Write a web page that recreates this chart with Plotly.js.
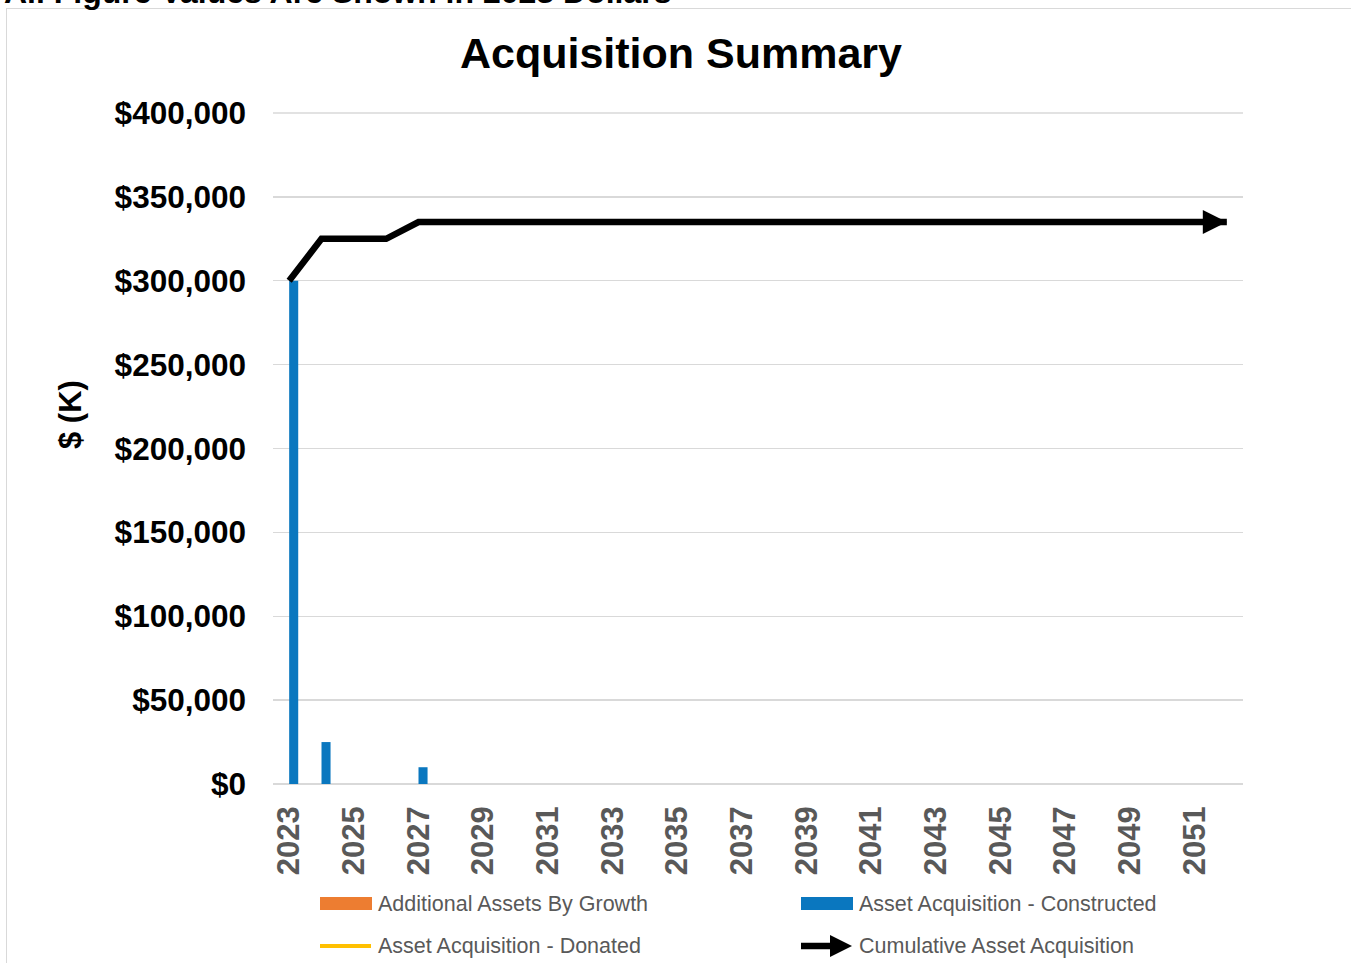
<!DOCTYPE html>
<html>
<head>
<meta charset="utf-8">
<script src="https://cdn.plot.ly/plotly-3.0.1.min.js"></script>
<style>
  html, body { margin: 0; padding: 0; overflow: hidden; background: #fff; }
  #wrap { position: relative; width: 1351px; height: 963px; overflow: hidden; }
  #frame { position: absolute; left: 6px; top: 8px; width: 1400px; height: 1000px;
           border-top: 1px solid #d9d9d9; border-left: 1px solid #d9d9d9; }
  #note { position: absolute; left: 4px; top: -24px; font-family: "Liberation Sans", Arial, sans-serif;
          font-weight: bold; font-size: 32px; line-height: 32px; color: #000; white-space: nowrap; }
  #chart { position: absolute; left: 0; top: 0; width: 1351px; height: 963px; }
</style>
</head>
<body>
<div id="wrap">
  <div id="frame"></div>
  <div id="note">All Figure Values Are Shown in 2023 Dollars</div>
  <div id="chart"></div>
</div>
<script>
// ---- data ----
const years = ['2023','2024','2025','2026','2027','2028','2029','2030','2031','2032',
               '2033','2034','2035','2036','2037','2038','2039','2040','2041','2042',
               '2043','2044','2045','2046','2047','2048','2049','2050','2051','2052'];
const tickYears = ['2023','2025','2027','2029','2031','2033','2035','2037','2039','2041',
                   '2043','2045','2047','2049','2051'];
const additionalByGrowth = [0,0,0,0,0,0,0,0,0,0, 0,0,0,0,0,0,0,0,0,0, 0,0,0,0,0,0,0,0,0,0];
const constructed = [300000,25000,0,0,10000,0,0,0,0,0, 0,0,0,0,0,0,0,0,0,0, 0,0,0,0,0,0,0,0,0,0];
const donated = [null,null,null,null,null,null,null,null,null,null,
                 null,null,null,null,null,null,null,null,null,null,
                 null,null,null,null,null,null,null,null,null,null];
const cumulative = [300000,325000,325000,325000,335000,335000,335000,335000,335000,335000,
                    335000,335000,335000,335000,335000,335000,335000,335000,335000,335000,
                    335000,335000,335000,335000,335000,335000,335000,335000,335000,335000];
const legendNames = ['Additional Assets By Growth','Asset Acquisition - Constructed',
                     'Asset Acquisition - Donated','Cumulative Asset Acquisition'];

// ---- layout helpers (pixel -> paper) ----
const L = 273, R = 1243, T = 113, B = 784;
const px = x => (x - L) / (R - L);
const py = y => (B - y) / (B - T);

const last = years.length - 1;
// back off only the final segment so the thick line ends inside the arrowhead
const lineBackoff = cumulative.map((v, i) => (i === last - 1 || i === last) ? 14 : 0);

const traces = [
  { type: 'bar', name: legendNames[0], x: years, y: additionalByGrowth,
    marker: { color: '#ED7D31' }, showlegend: false },
  { type: 'bar', name: legendNames[1], x: years, y: constructed,
    marker: { color: '#0A77BF' }, showlegend: false },
  { type: 'scatter', mode: 'lines', name: legendNames[2], x: years, y: donated,
    line: { color: '#FFC000', width: 4 }, showlegend: false },
  { type: 'scatter', mode: 'lines', name: legendNames[3], x: years, y: cumulative,
    line: { color: '#000', width: 6.5, backoff: lineBackoff }, showlegend: false },
  { type: 'scatter', mode: 'markers', name: legendNames[3] + ' (end)',
    x: [years[last]], y: [cumulative[last]],
    marker: { symbol: 'arrow-right', size: 24, color: '#000', line: { width: 0 } },
    showlegend: false }
];

const legFont = { family: 'Liberation Sans, Arial, sans-serif', size: 21.5, color: '#595959' };
const shapes = [
  { type: 'line', xref: 'paper', yref: 'paper', x0: 0, x1: 1, y0: 1, y1: 1,
    line: { color: '#D9D9D9', width: 1.3 }, layer: 'below' },
  { type: 'rect', xref: 'paper', yref: 'paper', x0: px(320), x1: px(372), y0: py(897), y1: py(910),
    fillcolor: '#ED7D31', line: { width: 0 } },
  { type: 'rect', xref: 'paper', yref: 'paper', x0: px(801), x1: px(853), y0: py(897), y1: py(910),
    fillcolor: '#0A77BF', line: { width: 0 } },
  { type: 'line', xref: 'paper', yref: 'paper', x0: px(320), x1: px(371), y0: py(946), y1: py(946),
    line: { color: '#FFC000', width: 4 } },
  { type: 'line', xref: 'paper', yref: 'paper', x0: px(801), x1: px(836), y0: py(946), y1: py(946),
    line: { color: '#000', width: 6.5 } },
  { type: 'path', xref: 'paper', yref: 'paper',
    path: `M${px(830)},${py(935)} L${px(852)},${py(946)} L${px(830)},${py(957)} Z`,
    fillcolor: '#000', line: { width: 0 } }
];
const annotations = [
  { xref: 'paper', yref: 'paper', x: px(70), y: py(415), xanchor: 'center', yanchor: 'middle',
    text: '$ (K)', showarrow: false, textangle: -90,
    font: { family: 'Liberation Sans, Arial, sans-serif', size: 31, color: '#000', weight: 'bold' } },
  { xref: 'paper', yref: 'paper', x: px(376), y: py(904), xanchor: 'left', yanchor: 'middle',
    text: legendNames[0], showarrow: false, font: legFont },
  { xref: 'paper', yref: 'paper', x: px(857), y: py(904), xanchor: 'left', yanchor: 'middle',
    text: legendNames[1], showarrow: false, font: legFont },
  { xref: 'paper', yref: 'paper', x: px(376), y: py(946), xanchor: 'left', yanchor: 'middle',
    text: legendNames[2], showarrow: false, font: legFont },
  { xref: 'paper', yref: 'paper', x: px(857), y: py(946), xanchor: 'left', yanchor: 'middle',
    text: legendNames[3], showarrow: false, font: legFont }
];

const layout = {
  width: 1351, height: 963,
  margin: { l: L, r: 1351 - R, t: T, b: 963 - B, pad: 0 },
  paper_bgcolor: 'rgba(0,0,0,0)', plot_bgcolor: 'rgba(0,0,0,0)',
  title: { text: 'Acquisition Summary', x: 681 / 1351, xanchor: 'center', y: 1 - 53 / 963, yanchor: 'middle',
           font: { family: 'Liberation Sans, Arial, sans-serif', size: 43, color: '#000', weight: 'bold' } },
  barmode: 'group', bargap: 0.44, bargroupgap: 0,
  showlegend: false,
  xaxis: { type: 'category', range: [-0.5, years.length - 0.5], autorange: false,
           tickvals: tickYears, ticktext: tickYears, tickangle: -90,
           showgrid: false, showline: false, zeroline: false, ticks: '', ticklabelstandoff: 15,
           tickfont: { family: 'Liberation Sans, Arial, sans-serif', size: 31, color: '#595959', weight: 'bold' } },
  yaxis: { range: [0, 400000], autorange: false, dtick: 50000, tick0: 0, tickprefix: '$', tickformat: ',.0f',
           showgrid: true, gridcolor: '#D9D9D9', gridwidth: 1.3, zeroline: true, zerolinecolor: '#D9D9D9',
           zerolinewidth: 1.6, showline: false, ticks: '', ticklabelstandoff: 26,
           tickfont: { family: 'Liberation Sans, Arial, sans-serif', size: 31.5, color: '#000', weight: 'bold' } },
  shapes: shapes,
  annotations: annotations
};

Plotly.newPlot('chart', traces, layout, { staticPlot: true });
</script>
</body>
</html>
